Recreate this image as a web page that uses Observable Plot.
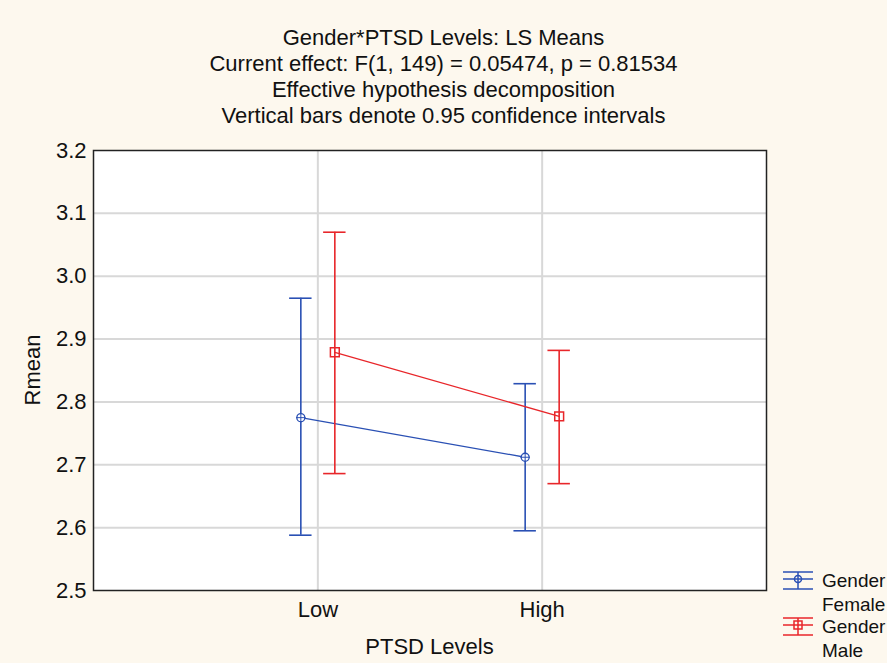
<!DOCTYPE html>
<html><head><meta charset="utf-8">
<script src="https://cdn.jsdelivr.net/npm/d3@7"></script>
<script src="https://cdn.jsdelivr.net/npm/@observablehq/plot@0.6"></script>
<style>
html,body{margin:0;padding:0;background:#fdf8ee;}
svg{display:block;}
</style></head><body>
<div id="chart"></div>
<script>
const levels = ["Low", "High"];
const genders = ["Female", "Male"];
const meanFemale = [2.775, 2.712];
const lowerFemale = [2.588, 2.595];
const upperFemale = [2.965, 2.829];
const meanMale = [2.879, 2.777];
const lowerMale = [2.686, 2.670];
const upperMale = [3.070, 2.882];
const yTicks = [2.5, 2.6, 2.7, 2.8, 2.9, 3.0, 3.1, 3.2];
const titleLines = [
  "Gender*PTSD Levels: LS Means",
  "Current effect: F(1, 149) = 0.05474, p = 0.81534",
  "Effective hypothesis decomposition",
  "Vertical bars denote 0.95 confidence intervals"
];
const colors = {Female: "#2a50b4", Male: "#e8262a"};

const rows = [];
levels.forEach((lv, i) => {
  rows.push({level: lv, pos: i + 1, gender: "Female", mean: meanFemale[i], lo: lowerFemale[i], hi: upperFemale[i]});
  rows.push({level: lv, pos: i + 1, gender: "Male", mean: meanMale[i], lo: lowerMale[i], hi: upperMale[i]});
});
const cap = 0.05;
const W = 887, H = 663;
const font = "'Liberation Sans', Arial, sans-serif";
const FS = 22;

const marks = [];
marks.push(Plot.frame({fill: "white"}));
marks.push(Plot.gridY(yTicks.filter(t => t > 2.5 && t < 3.2), {stroke: "#d8d8d8", strokeOpacity: 1, strokeWidth: 2}));
marks.push(Plot.gridX([1, 2], {stroke: "#d8d8d8", strokeOpacity: 1, strokeWidth: 2}));
genders.forEach(g => {
  const d = rows.filter(r => r.gender === g);
  const dx = g === "Female" ? -17 : 17;
  const c = colors[g];
  marks.push(Plot.line(d, {x: "pos", y: "mean", stroke: c, strokeWidth: 1.3, dx}));
  marks.push(Plot.ruleX(d, {x: "pos", y1: "lo", y2: "hi", stroke: c, strokeWidth: 1.6, dx}));
  marks.push(Plot.ruleY(d, {y: "lo", x1: r => r.pos - cap, x2: r => r.pos + cap, stroke: c, strokeWidth: 1.6, dx}));
  marks.push(Plot.ruleY(d, {y: "hi", x1: r => r.pos - cap, x2: r => r.pos + cap, stroke: c, strokeWidth: 1.6, dx}));
  if (g === "Female") {
    marks.push(Plot.dot(d, {x: "pos", y: "mean", r: 4, stroke: c, fill: "white", strokeWidth: 1.3, dx}));
    marks.push(Plot.dot(d, {x: "pos", y: "mean", symbol: "plus", r: 3.2, stroke: c, strokeWidth: 1, dx}));
  } else {
    marks.push(Plot.dot(d, {x: "pos", y: "mean", symbol: "square", r: 5, stroke: c, fill: "none", strokeWidth: 1.5, dx}));
  }
});
marks.push(Plot.frame({stroke: "#222", strokeWidth: 1.5}));
marks.push(Plot.axisY(yTicks, {tickSize: 0, tickPadding: 7, fontSize: FS, tickFormat: d3.format(".1f"), label: null}));
marks.push(Plot.axisX([1, 2], {tickSize: 0, tickPadding: 11, fontSize: FS, tickFormat: d => levels[d - 1], label: null}));

const plot = Plot.plot({
  width: W, height: H,
  marginLeft: 93, marginRight: 121, marginTop: 150, marginBottom: 73,
  x: {domain: [0, 3]},
  y: {domain: [2.5, 3.2]},
  style: {background: "#fdf8ee", fontFamily: font, color: "#111"},
  marks
});
document.getElementById("chart").appendChild(plot);

const svg = d3.select(plot);
const tg = svg.append("g").attr("font-family", font).attr("font-size", FS).attr("fill", "#111").attr("text-anchor", "middle");
titleLines.forEach((t, i) => tg.append("text").attr("x", W / 2).attr("y", 45 + i * 26).text(t));
svg.append("text").attr("font-family", font).attr("font-size", FS).attr("fill", "#111")
  .attr("text-anchor", "middle").attr("x", 429.5).attr("y", 654).text("PTSD Levels");
svg.append("text").attr("font-family", font).attr("font-size", FS).attr("fill", "#111")
  .attr("text-anchor", "middle").attr("transform", "translate(40,370) rotate(-90)").text("Rmean");

// legend
const lg = svg.append("g").attr("font-family", font).attr("font-size", 19).attr("fill", "#111").attr("text-anchor", "start");
genders.forEach((g, i) => {
  const y0 = 572 + i * 46;
  const c = colors[g];
  const gi = lg.append("g").attr("stroke", c).attr("stroke-width", 1.5).attr("fill", "none");
  gi.append("line").attr("x1", 783).attr("x2", 813).attr("y1", y0).attr("y2", y0);
  gi.append("line").attr("x1", 783).attr("x2", 813).attr("y1", y0 + 7).attr("y2", y0 + 7);
  gi.append("line").attr("x1", 783).attr("x2", 813).attr("y1", y0 + 17).attr("y2", y0 + 17);
  gi.append("line").attr("x1", 798).attr("x2", 798).attr("y1", y0).attr("y2", y0 + 17);
  if (g === "Female") gi.append("circle").attr("cx", 798).attr("cy", y0 + 7).attr("r", 3.5);
  else gi.append("rect").attr("x", 794).attr("y", y0 + 3).attr("width", 8).attr("height", 8);
  lg.append("text").attr("x", 822).attr("y", y0 + 15).text("Gender");
  lg.append("text").attr("x", 822).attr("y", y0 + 39).text(g);
});
</script>
</body></html>
